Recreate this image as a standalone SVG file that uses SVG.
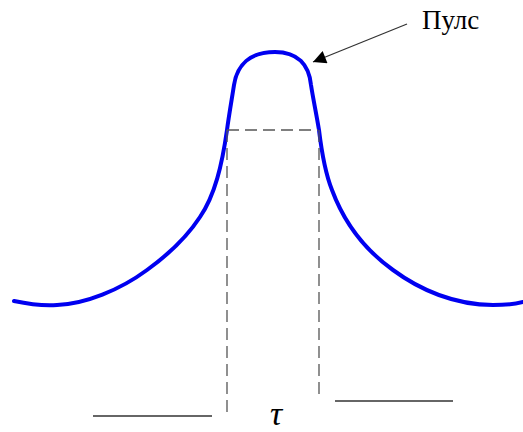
<svg xmlns="http://www.w3.org/2000/svg" width="523" height="432" viewBox="0 0 523 432">
<style>
.pulse{fill:none;stroke:#0000f0;stroke-width:4;stroke-linecap:round;stroke-linejoin:round}
.dash{fill:none;stroke:#555;stroke-width:1.3;stroke-dasharray:12,6}
.solid{fill:none;stroke:#333;stroke-width:1.3}
.lbl{font-family:"Liberation Serif","Times New Roman",serif;fill:#000}
</style>
<defs>
<marker id="ah" viewBox="0 0 10 10" refX="10" refY="5" markerWidth="20" markerHeight="13" markerUnits="userSpaceOnUse" orient="auto">
<path d="M0,0 L10,5 L0,10 Z" fill="#000"/>
</marker>
</defs>
<g id="curve">
<path class="pulse" d="M14,301 C28,304 42,306 57,305 C85,304 120,290 147,270 C165,257 185,240 200,217 C215,195 222,165 227,130 C229,115 232,98 234,85 C237,65 250,52 275,52 C298,52 309,65 311,85 C313,98 316,112 319,130 C322,155 326,175 332,190 C345,225 365,250 393,270 C420,290 455,305 493,305 C505,305 515,304 523,302"/>
</g>
<g id="guides">
<line class="dash" x1="227" y1="130" x2="318" y2="130"/>
<line class="dash" x1="227" y1="130" x2="227" y2="412"/>
<line class="dash" x1="319" y1="130" x2="319" y2="398"/>
<line class="solid" x1="93" y1="416" x2="212" y2="416"/>
<line class="solid" x1="335" y1="401" x2="453" y2="401"/>
</g>
<g id="connectors">
<line x1="407" y1="24" x2="313" y2="62" stroke="#333" stroke-width="1.3" marker-end="url(#ah)"/>
</g>
<g id="label-puls">
<text class="lbl" x="422" y="29" font-size="27">Пулс</text>
</g>
<g id="label-tau">
<text class="lbl" x="276" y="425" font-size="34" font-style="italic" text-anchor="middle">τ</text>
</g>
</svg>
